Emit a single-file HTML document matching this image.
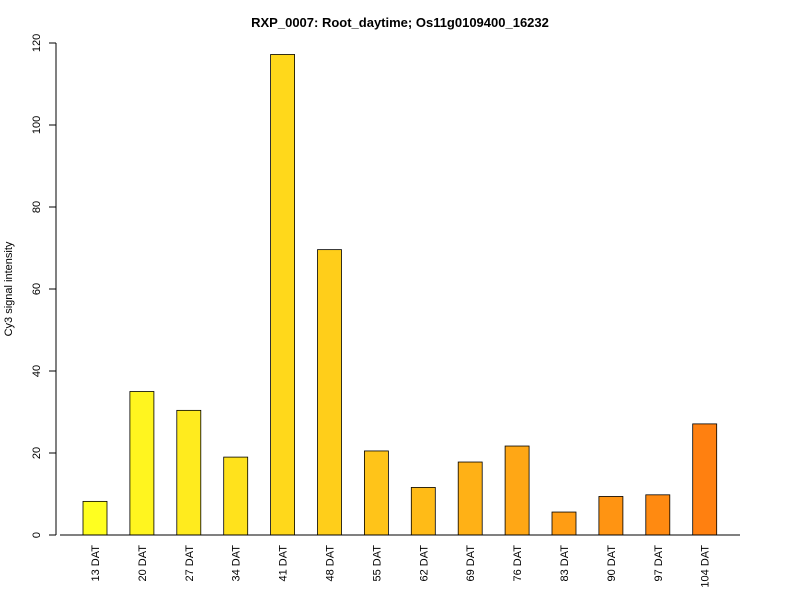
<!DOCTYPE html>
<html><head><meta charset="utf-8"><style>
body{margin:0;background:#fff}
svg text{font-family:"Liberation Sans",sans-serif;fill:#000}
</style></head><body>
<svg id="chart" width="800" height="600" xmlns="http://www.w3.org/2000/svg">
<rect width="800" height="600" fill="#fff"/>
<text x="400" y="27" text-anchor="middle" font-size="13" font-weight="bold">RXP_0007: Root_daytime; Os11g0109400_16232</text>
<text transform="translate(12,289) rotate(-90)" text-anchor="middle" font-size="11">Cy3 signal intensity</text>
<g id="yaxis"></g>
<g id="bars"></g>
<g id="xaxis"></g>
</svg>
<script>
const categories = ["13 DAT","20 DAT","27 DAT","34 DAT","41 DAT","48 DAT","55 DAT","62 DAT","69 DAT","76 DAT","83 DAT","90 DAT","97 DAT","104 DAT"];
const values = [8.2,35,30.4,19,117.2,69.6,20.5,11.6,17.8,21.7,5.6,9.4,9.8,27.1];
const yTicks = [0,20,40,60,80,100,120];

const NS="http://www.w3.org/2000/svg";
const y0=535, pxPerUnit=(535-43)/120;
const yScale=v=>y0-v*pxPerUnit;
const step=46.9, firstX=83, bw=24;
const xScale=i=>firstX+i*step;
function mk(tag,attrs,parent){const e=document.createElementNS(NS,tag);for(const k in attrs)e.setAttribute(k,attrs[k]);parent.appendChild(e);return e;}
const yaxis=document.getElementById('yaxis'), bars=document.getElementById('bars'), xaxis=document.getElementById('xaxis');
const ymax=yTicks[yTicks.length-1];
const yl=mk('line',{x1:56,x2:56,y1:yScale(0),y2:yScale(ymax),stroke:'#000'},yaxis);


yTicks.forEach(t=>{
  const y=yScale(t);
  const tk=mk('line',{x1:49,x2:56,y1:y,y2:y,stroke:'#000'},yaxis);
  
  
  const tx=mk('text',{transform:`translate(40,${y}) rotate(-90)`,'text-anchor':'middle','font-size':11},yaxis);
  
  
  tx.textContent=t;
});
const n=categories.length;
values.forEach((v,i)=>{
  const f=n>1?i/(n-1):0;
  const g=Math.round(255-f*(255-128)), b=Math.round(32-f*16);
  const x=xScale(i);
  const r=mk('rect',{x:x,y:yScale(v),width:bw,height:yScale(0)-yScale(v),fill:`rgb(255,${g},${b})`,stroke:'#000','stroke-width':0.8},bars);
  
  
  const t=mk('text',{transform:`translate(${x+bw/2+4},545) rotate(-90)`,'text-anchor':'end','font-size':11},xaxis);
  
  
  t.textContent=categories[i];
});
const xl=mk('line',{x1:60,x2:740,y1:y0,y2:y0,stroke:'#000'},xaxis);


</script>
</body></html>
